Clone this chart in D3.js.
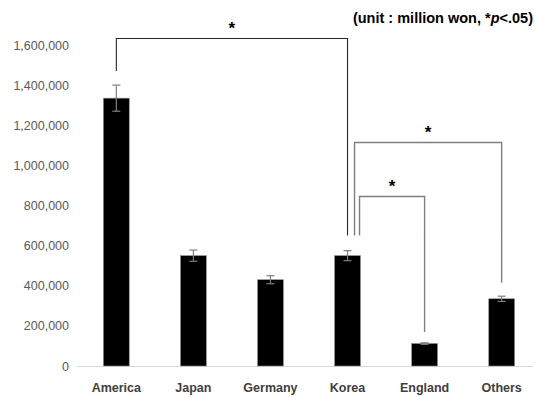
<!DOCTYPE html>
<html><head><meta charset="utf-8">
<script src="https://cdn.jsdelivr.net/npm/d3@7"></script>
<style>body{margin:0;background:#fff}svg{display:block}</style>
</head><body>
<svg id="c" width="541" height="397"></svg>
<script>
const categories = ["America","Japan","Germany","Korea","England","Others"];
const values = [1335000, 550000, 430000, 550000, 112000, 335000];
const errors = [65000, 28000, 20000, 25000, 4000, 13000];
const tickValues = [0,200000,400000,600000,800000,1000000,1200000,1400000,1600000];
// brackets: from category, to category, bracket level, leg ends (value units)
const brackets = [
  {from:"America", to:"Korea", level:1635000, fromEnd:1470000, toEnd:650000, off:0},
  {from:"Korea", to:"Others", level:1115000, fromEnd:650000, toEnd:415000, off:7},
  {from:"Korea", to:"England", level:847000, fromEnd:650000, toEnd:170000, off:12}
];
const note = "(unit : million won, *p<.05)";

const svg = d3.select("#c");
const x = d3.scaleBand().domain(categories).range([78, 540]).paddingInner(0.665).paddingOuter(0.33);
const y = d3.scaleLinear().domain([0,1600000]).range([366, 45]);

// axis baseline
svg.append("line").attr("x1",77).attr("x2",533).attr("y1",y(0)+0.5).attr("y2",y(0)+0.5)
  .attr("stroke","#d9d9d9").attr("stroke-width",1);

// y tick labels
const yAxis = d3.axisLeft(y).tickValues(tickValues).tickSize(0).tickPadding(0)
  .tickFormat(d3.format(","));
const ga = svg.append("g").attr("transform","translate(69,0)").call(yAxis);
ga.select(".domain").remove();
ga.selectAll("text").attr("font-family","'Liberation Sans', Arial, sans-serif")
  .attr("font-size","12.5px").attr("fill","#595959");

// bars
svg.selectAll("rect.bar").data(categories).enter().append("rect")
  .attr("x", d=>x(d)).attr("width", x.bandwidth())
  .attr("y", (d,i)=>y(values[i])).attr("height",(d,i)=>y(0)-y(values[i]))
  .attr("fill","#000").attr("stroke","#8c8c8c").attr("stroke-width",0.6);

// error bars
const eg = svg.append("g").attr("stroke","#7f7f7f").attr("stroke-width",1.2);
categories.forEach((c,i)=>{
  const cx = x(c)+x.bandwidth()/2;
  eg.append("line").attr("x1",cx).attr("x2",cx).attr("y1",y(values[i]+errors[i])).attr("y2",y(values[i]-errors[i]));
  [values[i]+errors[i], values[i]-errors[i]].forEach(v=>{
    eg.append("line").attr("x1",cx-4).attr("x2",cx+4).attr("y1",y(v)).attr("y2",y(v));
  });
});

// significance brackets
const bg = svg.append("g").attr("fill","none");
brackets.forEach((b,k)=>{
  const x1 = x(b.from)+x.bandwidth()/2 + (b.from==="Korea"?b.off:0);
  const x2 = x(b.to)+x.bandwidth()/2 + (b.to==="Korea"?b.off:0);
  const yl = Math.round(y(b.level))+0.5;
  bg.append("path")
    .attr("d",`M${x1},${y(b.fromEnd)}V${yl}H${x2}V${y(b.toEnd)}`)
    .attr("stroke", k===0 ? "#262626" : "#7f7f7f").attr("stroke-width", k===0?1.1:1.4);
  svg.append("text").attr("x",(x1+x2)/2).attr("y",yl-5).attr("text-anchor","middle")
    .attr("font-family","'Liberation Sans', Arial, sans-serif").attr("font-weight","bold")
    .attr("font-size","17px").attr("fill","#000").text("*");
});

// category labels
svg.selectAll("text.cat").data(categories).enter().append("text")
  .attr("x", d=>x(d)+x.bandwidth()/2).attr("y",392).attr("text-anchor","middle")
  .attr("font-family","'Liberation Sans', Arial, sans-serif").attr("font-weight","bold")
  .attr("font-size","12.5px").attr("fill","#404040").text(d=>d);

// note
const t = svg.append("text").attr("x",533).attr("y",23).attr("text-anchor","end")
  .attr("font-family","'Liberation Sans', Arial, sans-serif").attr("font-weight","bold")
  .attr("font-size","14.5px").attr("fill","#000");
t.append("tspan").text("(unit : million won, *");
t.append("tspan").attr("font-style","italic").text("p");
t.append("tspan").text("<.05)");
</script>
</body></html>
